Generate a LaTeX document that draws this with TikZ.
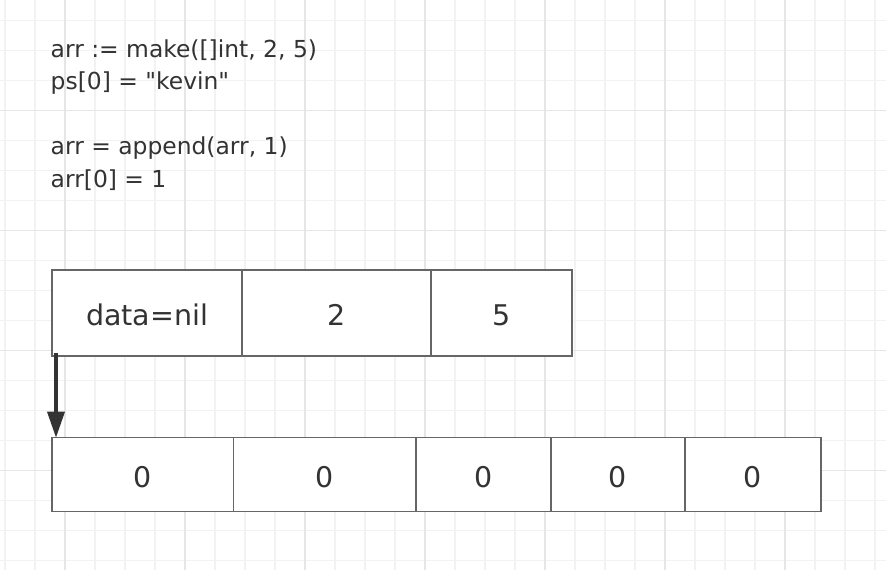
\documentclass[tikz,border=0pt]{standalone}
\usepackage{fontspec}
\setmainfont{DejaVu Sans}
\usepackage{tikz}
\usetikzlibrary{arrows.meta, positioning}
\definecolor{inkgray}{HTML}{333333}
\definecolor{edgegray}{HTML}{666666}
\definecolor{gridminor}{HTML}{F2F2F2}
\definecolor{gridmajor}{HTML}{E6E6E6}
\tikzstyle{cell} = [draw=edgegray, fill=white, rectangle, line width=1.3pt,
    inner sep=0pt, outer sep=0pt, text=inkgray,
    font=\fontsize{28.5}{28.5}\selectfont, text height=25pt, text depth=0pt]
\tikzstyle{hdrcell} = [cell, minimum height=86pt]
\tikzstyle{arrcell} = [cell, minimum height=74pt]
\tikzstyle{codeline} = [anchor=base west, inner sep=0pt, text=inkgray,
    font=\fontsize{23.4}{32.5}\selectfont]
\tikzstyle{ptr} = [line width=3.5pt, draw=inkgray,
    -{Triangle[width=17pt, length=26pt]}]

\begin{document}
\begin{tikzpicture}[x=1pt, y=-1pt]
        \useasboundingbox[fill=white] (0,0) rectangle (886,570);
        % background grid
        \foreach \i in {0,...,29} {\draw[gridminor, line width=1.3pt] (5+30*\i,0) -- (5+30*\i,570);}
        \foreach \j in {0,...,18} {\draw[gridminor, line width=1.3pt] (0,20.7+30*\j) -- (886,20.7+30*\j);}
        \foreach \i in {2,6,...,26} {\draw[gridmajor, line width=1.5pt] (5+30*\i,0) -- (5+30*\i,570);}
        \foreach \j in {3,7,...,15} {\draw[gridmajor, line width=1.5pt] (0,20.7+30*\j) -- (886,20.7+30*\j);}

        % code
        \node[codeline, name=make] at (50.5,57) (make) {arr := make([]int, 2, 5)};
        \node[codeline, name=assign] at (50.5,89.5) (assign) {ps[0] = \textquotedbl kevin\textquotedbl};
        \node[codeline, name=append] at (50.5,154.5) (append) {arr = append(arr, 1)};
        \node[codeline, name=write] at (50.5,187) (write) {arr[0] = 1};

        % slice header
        \node[hdrcell, minimum width=190pt, name=data] at (147,313) (data) {data=nil};
        \node[hdrcell, minimum width=189pt, right=0pt of data] (len) {2};
        \node[hdrcell, minimum width=141pt, right=0pt of len] (cap) {5};

        % backing array
        \node[arrcell, minimum width=181.5pt, name=elemA] at (142.75,474.7) (elemA) {0};
        \node[arrcell, minimum width=182.5pt, right=0pt of elemA] (elemB) {0};
        \node[arrcell, minimum width=135pt, right=0pt of elemB] (elemC) {0};
        \node[arrcell, minimum width=134pt, right=0pt of elemC] (elemD) {0};
        \node[arrcell, minimum width=136pt, right=0pt of elemD] (elemE) {0};

        \draw[ptr] ([xshift=4pt, yshift=3pt]data.south west) -- ([xshift=4pt]elemA.north west);
    \end{tikzpicture}
\end{document}
